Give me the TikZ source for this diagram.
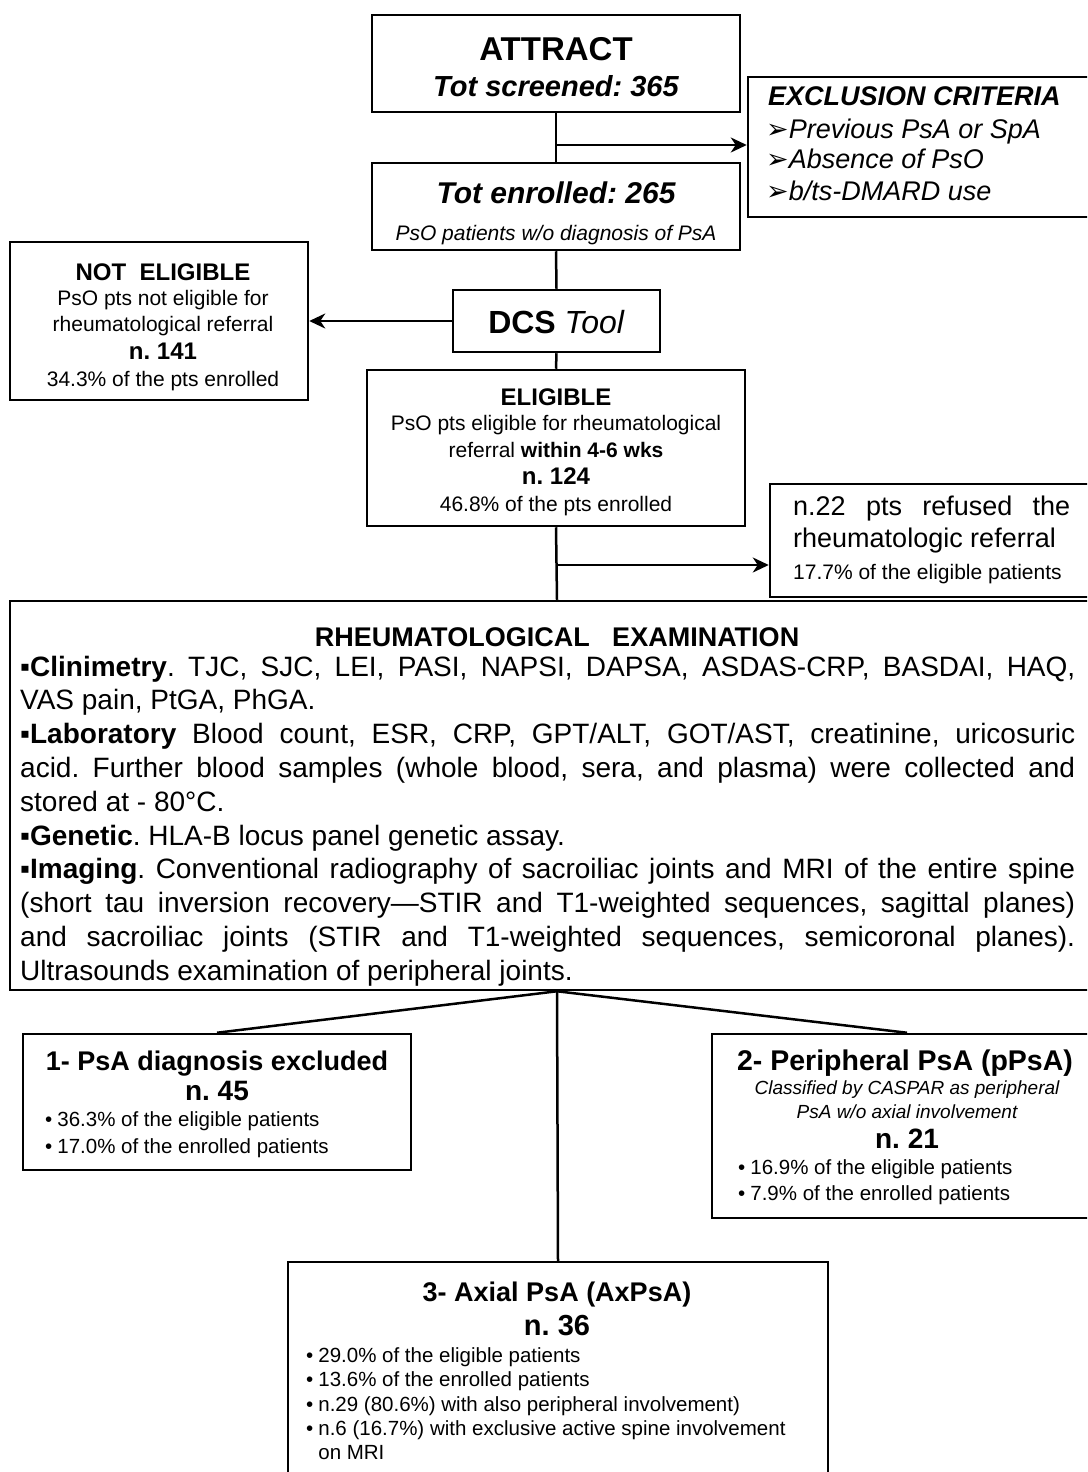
\documentclass[tikz,border=0pt]{standalone}
\usepackage{fontspec}
\setmainfont{Liberation Sans}
\newfontfamily\djv{DejaVu Sans}
\usetikzlibrary{arrows.meta}
\frenchspacing
\tikzset{
  box/.style={draw, line width=2.5pt, inner sep=0pt, fill=white},
  conn/.style={line width=2.5pt},
  arr/.style={line width=2.5pt, -{Stealth[length=16pt,width=15pt,inset=5pt]}},
  txt/.style={inner sep=0pt, anchor=base},
  txtl/.style={inner sep=0pt, anchor=base west},
}
\newcommand\fs[1]{\fontsize{#1}{#1}\selectfont}
\newcommand\bul{•\hspace{5pt}}
\newcommand\xarr{{\djv\fontsize{27}{27}\selectfont ➢}}
\begin{document}
\begin{tikzpicture}[x=1pt,y=-1pt]
\useasboundingbox (0,0) rectangle (1087,1472);
\fill[white] (0,0) rectangle (1087,1472);
\clip (0,0) rectangle (1087,1472);

% boxes
\node[box, minimum width=368, minimum height=97] (attract) at (556,63.5) {};
\node[box, minimum width=368, minimum height=87] (enrolled) at (556,206.5) {};
\node[box, minimum width=360, minimum height=140] (excl) at (928,147) {};
\node[box, minimum width=207, minimum height=62] (dcs) at (556.5,321) {};
\node[box, minimum width=298, minimum height=158] (notel) at (159,321) {};
\node[box, minimum width=378, minimum height=156] (elig) at (556,448) {};
\node[box, minimum width=340, minimum height=113] (refused) at (940,540.5) {};
\node[box, minimum width=1094, minimum height=389] (rheum) at (557,795.5) {};
\node[box, minimum width=388, minimum height=136] (res1) at (217,1102) {};
\node[box, minimum width=390, minimum height=184] (res2) at (907,1126) {};
\node[box, minimum width=540, minimum height=240] (res3) at (558,1382) {};

% connectors
\draw[conn] (attract.south) -- (enrolled.north);
\coordinate (b1) at (556,145);
\draw[arr] (b1) -- (b1 -| excl.west);
\draw[conn] (enrolled.south) -- (dcs.north);
\draw[arr] (dcs.west) -- (notel.east);
\draw[conn] (dcs.south) -- (elig.north);
\draw[conn] (elig.south) -- (rheum.north);
\coordinate (b2) at (556,565);
\draw[arr] (b2) -- (b2 -| refused.west);
\draw[conn] (rheum.south) -- (res1.north);
\draw[conn] (rheum.south) -- (res2.north);
\draw[conn] (rheum.south) -- (res3.north);

% texts: attract / enrolled
\node[txt] (tA1) at (556,60) {\fs{33}\bfseries ATTRACT};
\node[txt] (tA2) at (556,96) {\fs{29}\bfseries\itshape Tot screened: 365};
\node[txt] (tE1) at (556,203) {\fs{30}\bfseries\itshape Tot enrolled: 265};
\node[txt] (tE2) at (556,240) {\fs{21}\itshape PsO patients w/o diagnosis of PsA};

% exclusion
\node[txtl] (tX0) at (768,105) {\fs{27}\bfseries\itshape EXCLUSION CRITERIA};
\node[txtl] (tX1) at (766,138) {\fs{27}\xarr\itshape Previous PsA or SpA};
\node[txtl] (tX2) at (766,168) {\fs{27}\xarr\itshape Absence of PsO};
\node[txtl] (tX3) at (766,200) {\fs{27}\xarr\itshape b/ts-DMARD use};

% DCS
\node[txt] (tD) at (556.5,333.5) {\fs{32}\textbf{DCS} \textit{Tool}};

% not eligible
\node[txt] (tN1) at (163,280) {\fs{24}\bfseries NOT\ \ ELIGIBLE};
\node[txt] (tN2) at (163,305) {\fs{21}PsO pts not eligible for};
\node[txt] (tN3) at (163,331) {\fs{21}rheumatological referral};
\node[txt] (tN4) at (163,359) {\fs{24}\bfseries n. 141};
\node[txt] (tN5) at (163,386) {\fs{21}34.3\% of the pts enrolled};

% eligible
\node[txt] (tL1) at (556,405) {\fs{24}\bfseries ELIGIBLE};
\node[txt] (tL2) at (556,430) {\fs{21}PsO pts eligible for rheumatological};
\node[txt] (tL3) at (556,457) {\fs{21}referral \textbf{within 4-6 wks}};
\node[txt] (tL4) at (556,484) {\fs{24}\bfseries n. 124};
\node[txt] (tL5) at (556,511) {\fs{21}46.8\% of the pts enrolled};

% refused
\node[txtl] (tR1) at (793,515) {\vtop{\hsize=277pt\parindent=0pt\tolerance=10000\hbadness=10000\fontsize{27}{32}\selectfont
n.22 pts refused the\linebreak rheumatologic referral\par}};
\node[txtl] (tR2) at (793,579.5) {\fs{21}17.7\% of the eligible patients};

% rheumatological examination
\node[txt] (tM0) at (557,646) {\fs{27}\bfseries RHEUMATOLOGICAL\ \ \ EXAMINATION};
\node[txtl] (tM1) at (20,676) {\vtop{\hsize=1055pt\parindent=0pt\parskip=0pt\tolerance=10000\hbadness=10000\fontsize{28}{33.8}\selectfont
▪\textbf{Clinimetry}. TJC, SJC, LEI, PASI, NAPSI, DAPSA, ASDAS-CRP, BASDAI, HAQ,\linebreak VAS pain, PtGA, PhGA.\par
▪\textbf{Laboratory} Blood count, ESR, CRP, GPT/ALT, GOT/AST, creatinine, uricosuric\linebreak acid. Further blood samples (whole blood, sera, and plasma) were collected and\linebreak stored at - 80°C.\par
▪\textbf{Genetic}. HLA-B locus panel genetic assay.\par
▪\textbf{Imaging}. Conventional radiography of sacroiliac joints and MRI of the entire spine\linebreak (short tau inversion recovery—STIR and T1-weighted sequences, sagittal planes)\linebreak and sacroiliac joints (STIR and T1-weighted sequences, semicoronal planes).\linebreak Ultrasounds examination of peripheral joints.\par}};

% result 1
\node[txt] (t1a) at (217,1070) {\fs{27}\bfseries 1- PsA diagnosis excluded};
\node[txt] (t1b) at (217,1100) {\fs{28}\bfseries n. 45};
\node[txtl] (t1c) at (45,1126) {\vtop{\hsize=360pt\parindent=0pt\raggedright\fontsize{20.5}{27}\selectfont
\bul 36.3\% of the eligible patients\\
\bul 17.0\% of the enrolled patients}};

% result 2
\node[txt] (t2a) at (905,1070) {\fs{28.5}\bfseries 2- Peripheral PsA (pPsA)};
\node[txt] (t2b) at (907,1094) {\fs{19}\itshape Classified by CASPAR as peripheral};
\node[txt] (t2c) at (907,1118) {\fs{19}\itshape PsA w/o axial involvement};
\node[txt] (t2d) at (907,1148) {\fs{28}\bfseries n. 21};
\node[txtl] (t2e) at (738,1174) {\vtop{\hsize=330pt\parindent=0pt\raggedright\fontsize{20.5}{26}\selectfont
\bul 16.9\% of the eligible patients\\
\bul 7.9\% of the enrolled patients}};

% result 3
\node[txt] (t3a) at (557,1301) {\fs{27}\bfseries 3- Axial PsA (AxPsA)};
\node[txt] (t3b) at (557,1335) {\fs{29}\bfseries n. 36};
\node[txtl] (t3c) at (306,1362.5) {\vtop{\hsize=515pt\parindent=0pt\raggedright\fontsize{20.5}{24.3}\selectfont
\bul 29.0\% of the eligible patients\\
\bul 13.6\% of the enrolled patients\\
\bul n.29 (80.6\%) with also peripheral involvement)\\
\bul n.6 (16.7\%) with exclusive active spine involvement\\
\hphantom{\bul}on MRI}};
\end{tikzpicture}
\end{document}
